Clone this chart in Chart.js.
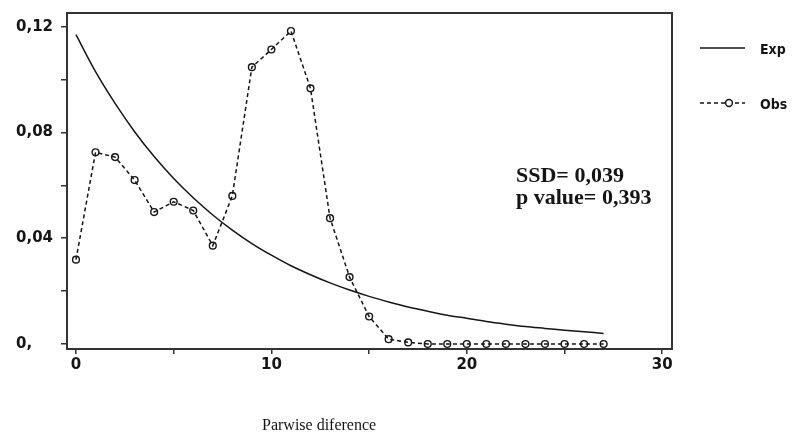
<!DOCTYPE html>
<html><head><meta charset="utf-8">
<script src="https://cdn.jsdelivr.net/npm/chart.js@4/dist/chart.umd.min.js"></script>
<style>html,body{margin:0;padding:0;background:#fff;}#wrap{position:relative;width:793px;height:436px;}</style>
</head><body><div id="wrap"><canvas id="c" width="793" height="436"></canvas></div>
<script>
const pairwiseDiff = [0,1,2,3,4,5,6,7,8,9,10,11,12,13,14,15,16,17,18,19,20,21,22,23,24,25,26,27];
const obsFreq = [0.0319,0.0725,0.0707,0.0620,0.0499,0.0538,0.0505,0.0372,0.0560,0.1047,0.1114,0.1184,0.0967,0.0476,0.0253,0.0104,0.0018,0.0006,0,0,0,0,0,0,0,0,0,0];
const expFreq = [0.1170,0.1030,0.0910,0.0803,0.0709,0.0626,0.0553,0.0488,0.0431,0.0380,0.0336,0.0296,0.0262,0.0231,0.0204,0.0180,0.0159,0.0140,0.0124,0.0109,0.0097,0.0085,0.0075,0.0066,0.0059,0.0052,0.0046,0.0040];
const xTickValues = [0,5,10,15,20,25,30];
const xTickLabels = ['0','','10','','20','','30'];
const yTickValues = [0,0.02,0.04,0.06,0.08,0.10,0.12];
const yTickLabels = ['0,','','0,04','','0,08','','0,12'];
const legendLabels = ['Exp','Obs'];
const statLines = ['SSD= 0,039','p value= 0,393'];
const xTitle = 'Parwise diference';

const ink = '#151515';
const tickFont = {family:'DejaVu Sans', weight:'bold', size:15};

const decor = {
  id:'decor',
  afterDraw(chart){
    const ctx = chart.ctx, a = chart.chartArea;
    ctx.save();
    ctx.strokeStyle = '#333'; ctx.lineWidth = 2;
    ctx.strokeRect(a.left, a.top, a.right - a.left, a.bottom - a.top);
    ctx.fillStyle = ink; ctx.strokeStyle = ink; ctx.lineWidth = 1.5;
    ctx.beginPath(); ctx.moveTo(700, 48); ctx.lineTo(745, 48); ctx.stroke();
    ctx.setLineDash([4,3]);
    ctx.beginPath(); ctx.moveTo(700, 103); ctx.lineTo(745, 103); ctx.stroke();
    ctx.setLineDash([]);
    ctx.beginPath(); ctx.arc(729, 103, 3.4, 0, Math.PI*2); ctx.fillStyle='#fff'; ctx.fill(); ctx.stroke();
    ctx.fillStyle = ink;
    ctx.font = 'bold 14px "DejaVu Sans Condensed", "DejaVu Sans"';
    ctx.textBaseline = 'alphabetic'; ctx.textAlign = 'left';
    ctx.fillText(legendLabels[0], 760, 54);
    ctx.fillText(legendLabels[1], 760, 109);
    ctx.font = 'bold 22px "Liberation Serif"';
    ctx.fillText(statLines[0], 516, 182);
    ctx.fillText(statLines[1], 516, 204);
    ctx.font = '16px "Liberation Serif"';
    ctx.fillText(xTitle, 262, 430);
    ctx.restore();
  }
};

new Chart(document.getElementById('c'), {
  type:'line',
  data:{
    datasets:[
      {label:legendLabels[0], data:pairwiseDiff.map((x,i)=>({x, y:expFreq[i]})),
       borderColor:ink, borderWidth:1.5, pointRadius:0, tension:0.3, fill:false},
      {label:legendLabels[1], data:pairwiseDiff.map((x,i)=>({x, y:obsFreq[i]})),
       borderColor:ink, borderWidth:1.5, borderDash:[4,3], pointRadius:3.4, pointBorderWidth:1.4,
       pointBorderColor:ink, pointBackgroundColor:'rgba(0,0,0,0)', tension:0, fill:false}
    ]
  },
  options:{
    responsive:false, animation:false, devicePixelRatio:1,
    layout:{padding:{left:16, top:12, right:121, bottom:0}},
    plugins:{legend:{display:false}, tooltip:{enabled:false}},
    scales:{
      x:{type:'linear', min:-0.46, max:30.5,
         afterBuildTicks(s){ s.ticks = xTickValues.map(v=>({value:v})); },
         afterFit(s){ s.height = 87; },
         grid:{drawOnChartArea:false, drawTicks:true, tickLength:5, color:'#333', lineWidth:1.5},
         border:{display:true, color:'#333', width:2},
         ticks:{autoSkip:false, maxRotation:0, padding:2, color:ink, font:tickFont,
                callback:(v,i)=>xTickLabels[i]}},
      y:{type:'linear', min:-0.0019, max:0.1252,
         afterBuildTicks(s){ s.ticks = yTickValues.map(v=>({value:v})); },
         afterFit(s){ s.width = 51; },
         grid:{drawOnChartArea:false, drawTicks:true, tickLength:6, color:'#333', lineWidth:1.5},
         border:{display:true, color:'#333', width:2},
         ticks:{autoSkip:false, crossAlign:'far', padding:4, color:ink, font:tickFont,
                callback:(v,i)=>yTickLabels[i]}}
    }
  },
  plugins:[decor]
});
</script></body></html>
